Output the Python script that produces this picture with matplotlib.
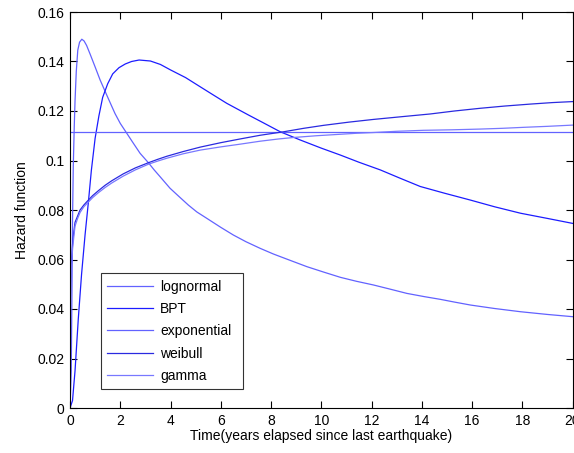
import matplotlib
matplotlib.use("Agg")
import matplotlib.pyplot as plt

plt.rcParams['font.family'] = ['Liberation Sans', 'DejaVu Sans']

# ---- data ----
t_lognormal = [0, 0.05, 0.08, 0.1, 0.13, 0.17, 0.2, 0.25, 0.31, 0.38, 0.47, 0.56, 0.66,
               0.8, 1.0, 1.2, 1.46, 1.79, 2.0, 2.26, 2.5, 2.79, 3.12, 3.35, 3.59, 3.98,
               4.3, 4.71, 5.05, 5.45, 6.0, 6.5, 7.0, 7.57, 8.1, 8.75, 9.43, 10.1, 10.76,
               11.4, 12.08, 12.75, 13.41, 14.1, 14.74, 15.3, 15.94, 16.9, 17.93, 19.0, 20]
h_lognormal = [0, 0.015, 0.05, 0.075, 0.0975, 0.114, 0.124, 0.136, 0.1446, 0.1478,
               0.149, 0.1483, 0.1465, 0.143, 0.1378, 0.1325, 0.1265, 0.119, 0.115,
               0.111, 0.1073, 0.1029, 0.0991, 0.0962, 0.0934, 0.0888, 0.0858, 0.082,
               0.0792, 0.0766, 0.073, 0.0699, 0.0672, 0.0645, 0.0622, 0.0597, 0.0571,
               0.0549, 0.0528, 0.0512, 0.0497, 0.048, 0.0463, 0.045, 0.0439, 0.0428,
               0.0416, 0.0402, 0.0389, 0.0378, 0.0369]

t_bpt = [0, 0.1, 0.2, 0.33, 0.46, 0.6, 0.73, 0.85, 1.0, 1.15, 1.3, 1.5, 1.7, 1.95,
         2.2, 2.45, 2.75, 3.2, 3.6, 4.0, 4.6, 5.18, 5.7, 6.24, 7.1, 7.7, 8.37, 9.16,
         10.0, 10.76, 11.5, 12.35, 13.1, 13.94, 14.9, 15.94, 16.9, 17.93, 19.0, 20]
h_bpt = [0, 0.003, 0.015, 0.036, 0.054, 0.07, 0.083, 0.096, 0.109, 0.118, 0.1255,
         0.131, 0.135, 0.1375, 0.139, 0.14, 0.1406, 0.1402, 0.1388, 0.1366, 0.1335,
         0.1298, 0.1265, 0.1231, 0.1184, 0.1152, 0.1116, 0.1083, 0.105, 0.1022,
         0.0993, 0.0962, 0.093, 0.0895, 0.0868, 0.084, 0.0813, 0.0787, 0.0766, 0.0746]

t_exponential = [0, 20]
h_exponential = [0.1114, 0.1114]

t_weibull = [0, 0.01, 0.03, 0.06, 0.1, 0.15, 0.2, 0.3, 0.4, 0.55, 0.73, 0.9, 1.13,
             1.4, 1.66, 2.12, 2.6, 3.12, 3.5, 3.85, 4.5, 5.18, 6.0, 6.77, 7.57, 8.5,
             9.3, 10.09, 11.1, 12.08, 13.2, 14.34, 15.3, 16.33, 17.3, 18.33, 19.2, 20]
h_weibull = [0, 0.042, 0.052, 0.059, 0.066, 0.071, 0.075, 0.0775, 0.08, 0.082, 0.084,
             0.0858, 0.0878, 0.09, 0.0918, 0.0946, 0.097, 0.0991, 0.1005, 0.1017,
             0.1036, 0.1054, 0.1072, 0.1087, 0.1102, 0.1116, 0.113, 0.1142, 0.1155,
             0.1166, 0.1177, 0.1188, 0.12, 0.1211, 0.122, 0.1228, 0.1234, 0.1238]

t_gamma = [0, 0.01, 0.03, 0.06, 0.1, 0.15, 0.2, 0.3, 0.4, 0.55, 0.73, 0.9, 1.13, 1.4,
           1.66, 2.12, 2.6, 3.12, 3.5, 3.85, 4.5, 5.18, 6.0, 6.77, 7.57, 8.3, 8.9, 9.8,
           10.76, 11.4, 12.07, 13.0, 14.07, 15.2, 16.33, 17.2, 18.05, 19.0, 20]
h_gamma = [0, 0.038, 0.05, 0.057, 0.064, 0.069, 0.0735, 0.0765, 0.079, 0.0813, 0.0832,
           0.085, 0.087, 0.0891, 0.0909, 0.0937, 0.0962, 0.0985, 0.0998, 0.1009,
           0.1027, 0.1042, 0.1055, 0.1066, 0.1078, 0.1087, 0.1093, 0.11, 0.1106,
           0.111, 0.1113, 0.1118, 0.1122, 0.1124, 0.1127, 0.113, 0.1134, 0.1138, 0.1143]

labels = ['lognormal', 'BPT', 'exponential', 'weibull', 'gamma']
colors = ['#6262ff', '#1c1cff', '#6262ff', '#2a2ae0', '#7878ff']

x_ticks = list(range(0, 21, 2))
y_ticks = [0, 0.02, 0.04, 0.06, 0.08, 0.1, 0.12, 0.14, 0.16]
y_ticklabels = ['0', '0.02', '0.04', '0.06', '0.08', '0.1', '0.12', '0.14', '0.16']

# ---- plot ----
fig = plt.figure(figsize=(5.74, 4.53), dpi=100)
ax = fig.add_axes([70/574, 45/453, (572.5-70)/574, (408-12)/453])

series = [(t_lognormal, h_lognormal), (t_bpt, h_bpt), (t_exponential, h_exponential),
          (t_weibull, h_weibull), (t_gamma, h_gamma)]
for (tt, hh), lab, col in zip(series, labels, colors):
    ax.plot(tt, hh, color=col, lw=0.9, label=lab)

ax.set_xlim(0, 20)
ax.set_ylim(0, 0.16)
ax.set_xticks(x_ticks)
ax.set_yticks(y_ticks)
ax.set_yticklabels(y_ticklabels)
ax.tick_params(direction='in', top=True, right=True, length=5, width=0.8,
               labelsize=10, colors='black', pad=4)
for s in ax.spines.values():
    s.set_linewidth(0.8)
    s.set_color('black')

ax.set_xlabel('Time(years elapsed since last earthquake)', fontsize=10, labelpad=1)
ax.set_ylabel('Hazard function', fontsize=10, labelpad=6)

leg = ax.legend(loc='upper left',
                bbox_to_anchor=((101-70)/502.5, (408-273.3)/396, (243.3-101)/502.5, 0),
                mode='expand', fontsize=10, frameon=True, fancybox=False,
                edgecolor='black', handlelength=3.3, handletextpad=0.5,
                labelspacing=0.6, borderpad=0.45, borderaxespad=0)
leg.get_frame().set_linewidth(0.8)

fig.savefig('out.png', dpi=100)
